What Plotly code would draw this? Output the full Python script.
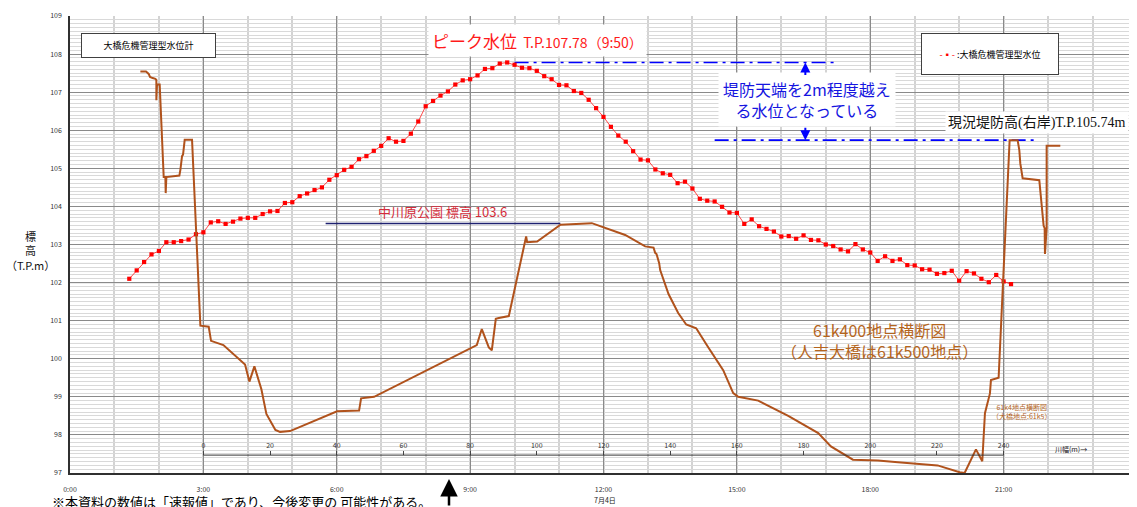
import plotly.graph_objects as go

# ---------------- data ----------------
# 大橋危機管理型水位計: 10-minute readings on 7/4 starting 01:20
LEVEL_START_H = 1 + 20 / 60
LEVEL_STEP_H = 10 / 60
water_level = [
    102.10, 102.32, 102.54, 102.74, 102.83, 103.06, 103.06, 103.09, 103.13, 103.27,
    103.32, 103.58, 103.61, 103.54, 103.60, 103.68, 103.70, 103.70, 103.80, 103.87,
    103.88, 104.09, 104.11, 104.27, 104.34, 104.43, 104.50, 104.70, 104.82, 104.96,
    105.04, 105.24, 105.32, 105.46, 105.59, 105.79, 105.70, 105.72, 105.91, 106.23,
    106.63, 106.77, 106.91, 107.02, 107.20, 107.31, 107.34, 107.44, 107.61, 107.63,
    107.75, 107.78, 107.72, 107.64, 107.63, 107.56, 107.42, 107.34, 107.19, 107.18,
    107.03, 106.98, 106.80, 106.58, 106.35, 106.09, 105.86, 105.70, 105.45, 105.23,
    105.21, 104.97, 104.87, 104.83, 104.61, 104.65, 104.47, 104.20, 104.15, 104.13,
    103.99, 103.84, 103.83, 103.54, 103.66, 103.48, 103.41, 103.34, 103.21, 103.22,
    103.15, 103.24, 103.12, 103.11, 103.00, 102.96, 102.87, 102.82, 103.01, 102.87,
    102.79, 102.57, 102.69, 102.57, 102.61, 102.46, 102.45, 102.35, 102.34, 102.23,
    102.25, 102.31, 102.05, 102.30, 102.24, 102.10, 102.01, 102.20, 102.03, 101.96,
]
level_hours = [LEVEL_START_H + i * LEVEL_STEP_H for i in range(len(water_level))]

# 61k400 cross section: distance across river (m) and ground elevation (T.P.m)
xs_dist = [
    -18.9, -17.2, -16.4, -16.0, -15.2, -14.4, -14.1, -14.1, -13.9, -13.1,
    -11.9, -11.4, -11.3, -11.1, -7.2, -6.9, -6.4, -6.1, -5.8, -5.6,
    -3.4, -0.9, 1.6, 2.3, 6.0, 8.8, 12.5, 13.8, 15.3, 17.4,
    18.9, 21.6, 23.0, 26.0, 40.1, 46.7, 47.3, 51.2, 82.0, 83.5,
    85.6, 86.5, 87.7, 88.6, 91.6, 96.8, 97.1, 100.1, 107.1, 116.5,
    119.4, 126.5, 132.5, 135.0, 135.5, 135.9, 136.7, 137.0, 139.5, 142.4,
    144.8, 147.8, 151.4, 155.9, 158.9, 160.4, 166.4, 175.4, 184.4, 188.2,
    194.8, 202.3, 208.3, 220.2, 226.8, 228.3, 231.7, 233.6, 234.4, 235.2,
    235.9, 236.2, 238.5, 241.8, 244.2, 244.7, 245.0, 245.7, 250.7, 252.0,
    252.3, 252.4, 252.9, 252.9, 257.0,
]
xs_elev = [
    107.54, 107.54, 107.48, 107.40, 107.37, 107.35, 107.32, 106.79, 107.20, 107.20,
    104.77, 104.77, 104.35, 104.77, 104.81, 104.96, 105.32, 105.36, 105.71, 105.75,
    105.75, 100.87, 100.84, 100.47, 100.36, 100.14, 99.85, 99.40, 99.80, 99.20,
    98.55, 98.13, 98.08, 98.10, 98.62, 98.64, 98.96, 99.00, 100.36, 100.78,
    100.30, 100.22, 101.05, 101.07, 101.12, 103.21, 103.06, 103.08, 103.52, 103.56,
    103.47, 103.25, 102.95, 102.92, 102.78, 102.75, 102.51, 102.33, 101.70, 101.20,
    100.90, 100.80, 100.30, 99.70, 99.10, 99.00, 98.90, 98.50, 98.05, 97.70,
    97.35, 97.33, 97.28, 97.20, 97.02, 97.00, 97.62, 97.31, 98.57, 98.83,
    99.09, 99.44, 99.50, 105.74, 105.74, 105.48, 105.13, 104.74, 104.69, 103.49,
    103.43, 102.75, 103.43, 105.59, 105.59,
]

# reference levels
PEAK_LEVEL = 107.78
PEAK_LINE_HOURS = [10.0, 17.2]
LEVEE_HEIGHT = 105.74
LEVEE_LINE_HOURS = [14.5, 21.75]
PARK_LEVEL = 103.55
PARK_LINE_HOURS = [5.75, 11.03]
BLACK_LINE_LEVEL = 102.0

# axes
TIME_TICKS = [0, 3, 6, 9, 12, 15, 18, 21, 24]
TIME_LABELS = ["0:00", "3:00", "6:00", "9:00", "12:00", "15:00", "18:00", "21:00", "0:00"]
DIST_TICKS = [0, 20, 40, 60, 80, 100, 120, 140, 160, 180, 200, 220, 240]
DIST_RANGE = [-40, 280]
DIST_AXIS_LEVEL = 97.47
Y_RANGE = [97, 109]

# ---------------- layout helpers ----------------
PAGE_OFFSET = 8                      # browser body margin
W, H = 1137 - PAGE_OFFSET, 507 - PAGE_OFFSET
L, R, T, B = 62, 0, 8, 34
PW, PH = W - L - R, H - T - B
PLOT_LEFT = L + PAGE_OFFSET          # screen px
PLOT_BOTTOM = H - B + PAGE_OFFSET    # screen px


def px(x):
    return (x - PLOT_LEFT) / PW


def py(y):
    return (PLOT_BOTTOM - y) / PH


BROWN = "#b0521c"
RED = "#ff0000"
BLUE = "#0000ff"
JP = "Noto Sans CJK JP, Noto Sans, sans-serif"

fig = go.Figure()

# cross-section
fig.add_trace(go.Scatter(x=xs_dist, y=xs_elev, xaxis="x2", yaxis="y", mode="lines",
                         line=dict(color=BROWN, width=2), hoverinfo="skip"))
# park level line
fig.add_trace(go.Scatter(x=PARK_LINE_HOURS, y=[PARK_LEVEL] * 2, mode="lines",
                         line=dict(color="#1f2270", width=1.5), hoverinfo="skip"))
# dash-dot reference lines
fig.add_trace(go.Scatter(x=PEAK_LINE_HOURS, y=[PEAK_LEVEL] * 2, mode="lines",
                         line=dict(color=BLUE, width=1.6, dash="14px,5px,3px,5px"), hoverinfo="skip"))
fig.add_trace(go.Scatter(x=LEVEE_LINE_HOURS, y=[LEVEE_HEIGHT] * 2, mode="lines",
                         line=dict(color=BLUE, width=1.6, dash="14px,5px,3px,5px"), hoverinfo="skip"))
# water level
fig.add_trace(go.Scatter(x=level_hours, y=water_level, mode="lines+markers",
                         line=dict(color="rgba(255,40,40,0.85)", width=1),
                         marker=dict(symbol="square", size=4.2, color=RED),
                         name="大橋危機管理型水位"))

shapes = [
    dict(type="line", xref="paper", yref="y", x0=0, x1=1, y0=BLACK_LINE_LEVEL, y1=BLACK_LINE_LEVEL,
         line=dict(color="#000000", width=1), layer="below"),
    dict(type="line", xref="x2", yref="y", x0=DIST_TICKS[0], x1=DIST_TICKS[-1],
         y0=DIST_AXIS_LEVEL, y1=DIST_AXIS_LEVEL, line=dict(color="#333333", width=1), layer="above"),
]


def note(x, y, text, size, color="#000", family=JP, **kw):
    d = dict(xref="paper", yref="paper", x=px(x), y=py(y), text=text, showarrow=False,
             xanchor="center", yanchor="middle", font=dict(family=family, size=size, color=color))
    d.update(kw)
    return d


annotations = [
    note(148.5, 45.5, "大橋危機管理型水位計", 9, bgcolor="white", bordercolor="#404040",
         borderwidth=1, borderpad=0, width=133, height=23),
    note(990, 54, "<span style='color:#ff0000'>-▪-</span> :大橋危機管理型水位", 9, bgcolor="white",
         bordercolor="#404040", borderwidth=1, borderpad=0, width=136, height=40),
    note(537, 41, "<span style='font-size:17px'>ピーク水位</span>  T.P.107.78（9:50）", 14,
         color="#ff1a1a", bgcolor="white", borderpad=3),
    note(807, 99, "堤防天端を2m程度越え<br>る水位となっている", 16, color="#1515e0",
         bgcolor="white", borderpad=4),
    note(1037, 122, "現況堤防高(右岸)T.P.105.74m", 14, color="#111",
         family="Liberation Serif, Noto Sans CJK JP, serif", bgcolor="white", borderpad=2),
    note(442, 212, "中川原公園 標高 103.6", 13, color="#d42c3a"),
    note(879, 341, "61k400地点横断図<br>（人吉大橋は61k500地点）", 16, color="#b5651d"),
    note(1021, 411, "61k4地点横断図<br>（大橋地点:61k5）", 7, color="#b5651d"),
    note(1071, 449, "川幅(m)→", 7, color="#222"),
    note(605, 500, "7月4日", 7, color="#222"),
    note(30, 250, "標<br>高<br>（T.P.m）", 11, color="#111"),
    note(50, 502, "※本資料の数値は「速報値」であり、今後変更の 可能性がある。", 13, xanchor="left"),
    # blue arrows
    dict(xref="x", yref="y", x=16.54, y=PEAK_LEVEL, ax=0, ay=14, text="", showarrow=True,
         arrowhead=2, arrowsize=1, arrowwidth=2, arrowcolor=BLUE),
    dict(xref="x", yref="y", x=16.54, y=LEVEE_HEIGHT, ax=0, ay=-14, text="", showarrow=True,
         arrowhead=2, arrowsize=1, arrowwidth=2, arrowcolor=BLUE),
    # black arrow below the axis
    dict(xref="paper", yref="paper", x=px(449), y=py(479), ax=0, ay=34, text="", showarrow=True,
         arrowhead=2, arrowsize=1.4, arrowwidth=2.5, arrowcolor="#000"),
]

fig.update_layout(
    width=W, height=H, margin=dict(l=L, r=R, t=T, b=B, autoexpand=False),
    paper_bgcolor="white", plot_bgcolor="white", showlegend=False,
    font=dict(family=JP),
    xaxis=dict(range=[0, 24], tickmode="array", tickvals=TIME_TICKS, ticktext=TIME_LABELS,
               showgrid=True, gridcolor="#8a8a8a", gridwidth=1.3,
               minor=dict(tickmode="linear", tick0=0, dtick=1, showgrid=True, gridcolor="#d3d3d3", gridwidth=2),
               showline=True, linecolor="#303030", linewidth=1.5, ticks="", ticklabelstandoff=9,
               tickfont=dict(size=7, color="#333"), zeroline=False),
    xaxis2=dict(overlaying="x", anchor="free", position=py(455), side="top", range=DIST_RANGE,
                tickmode="array", tickvals=DIST_TICKS, showgrid=False, showline=False,
                ticks="outside", ticklen=4, tickcolor="#444", tickfont=dict(size=7, color="#333"),
                zeroline=False),
    yaxis=dict(range=Y_RANGE, tick0=97, dtick=1, showgrid=True, gridcolor="#8a8a8a", gridwidth=1.3,
               minor=dict(tick0=97, dtick=0.1, showgrid=True, gridcolor="#d9d9d9", gridwidth=1),
               showline=True, linecolor="#303030", linewidth=1.5, ticks="", ticklabelstandoff=5,
               tickfont=dict(size=7, color="#333"), zeroline=False),
    shapes=shapes, annotations=annotations,
)

fig.write_html("out.html")
